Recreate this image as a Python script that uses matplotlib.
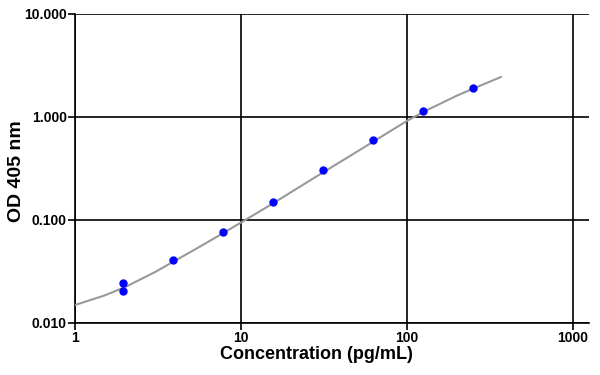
import matplotlib
matplotlib.use('Agg')
import matplotlib.pyplot as plt
from matplotlib.ticker import FixedLocator, FixedFormatter, NullLocator

# standards (pg/mL) and measured OD
conc = [1.95, 1.95, 3.9, 7.8, 15.6, 31.25, 62.5, 125, 250]
od = [0.0244, 0.0205, 0.041, 0.0755, 0.147, 0.303, 0.587, 1.146, 1.88]

# fitted curve
curve_x = [1, 1.5, 2, 3, 4, 6, 8, 12, 16, 24, 32, 48, 64, 100, 128, 200, 256, 367]
curve_y = [0.0149, 0.0184, 0.0222, 0.0308, 0.040, 0.058, 0.076, 0.112, 0.148,
           0.222, 0.295, 0.44, 0.585, 0.91, 1.13, 1.60, 1.90, 2.42]

x_ticks = [1, 10, 100, 1000]
x_labels = ['1', '10', '100', '1000']
y_ticks = [0.01, 0.1, 1, 10]
y_labels = ['0.010', '0.100', '1.000', '10.000']

plt.rcParams['font.family'] = ['Liberation Sans', 'DejaVu Sans']
plt.rcParams['font.weight'] = 'bold'

fig = plt.figure(figsize=(6, 3.75), dpi=100)
ax = fig.add_axes([0.125, 0.139, 0.857, 0.825])

ax.set_xscale('log')
ax.set_yscale('log')
ax.set_xlim(1, 1250)
ax.set_ylim(0.01, 10)

ax.plot(curve_x, curve_y, color='#999999', lw=1.5, zorder=3)
ax.plot(conc, od, 'o', color='#0000ff', ms=5, mec='#0000ff', zorder=4)

ax.xaxis.set_major_locator(FixedLocator(x_ticks))
ax.xaxis.set_major_formatter(FixedFormatter(x_labels))
ax.xaxis.set_minor_locator(NullLocator())
ax.yaxis.set_major_locator(FixedLocator(y_ticks))
ax.yaxis.set_major_formatter(FixedFormatter(y_labels))
ax.yaxis.set_minor_locator(NullLocator())

ax.grid(True, color='black', lw=1.2)
ax.set_axisbelow(True)
for s in ['top', 'right']:
    ax.spines[s].set_visible(False)
for s in ['left', 'bottom']:
    ax.spines[s].set_linewidth(1.2)
ax.tick_params(direction='out', length=5, width=1.2, pad=1, labelsize=10)

ax.set_xlabel('Concentration (pg/mL)', fontsize=13, fontweight='bold')
ax.xaxis.set_label_coords(0.47, -0.075, transform=ax.transAxes)
ax.xaxis.label.set_va('top')
ax.set_ylabel('OD 405 nm', fontsize=14, fontweight='bold')
ax.yaxis.set_label_coords(-0.113, 0.49, transform=ax.transAxes)
ax.yaxis.label.set_va('center')

fig.savefig('out.png', dpi=100)
